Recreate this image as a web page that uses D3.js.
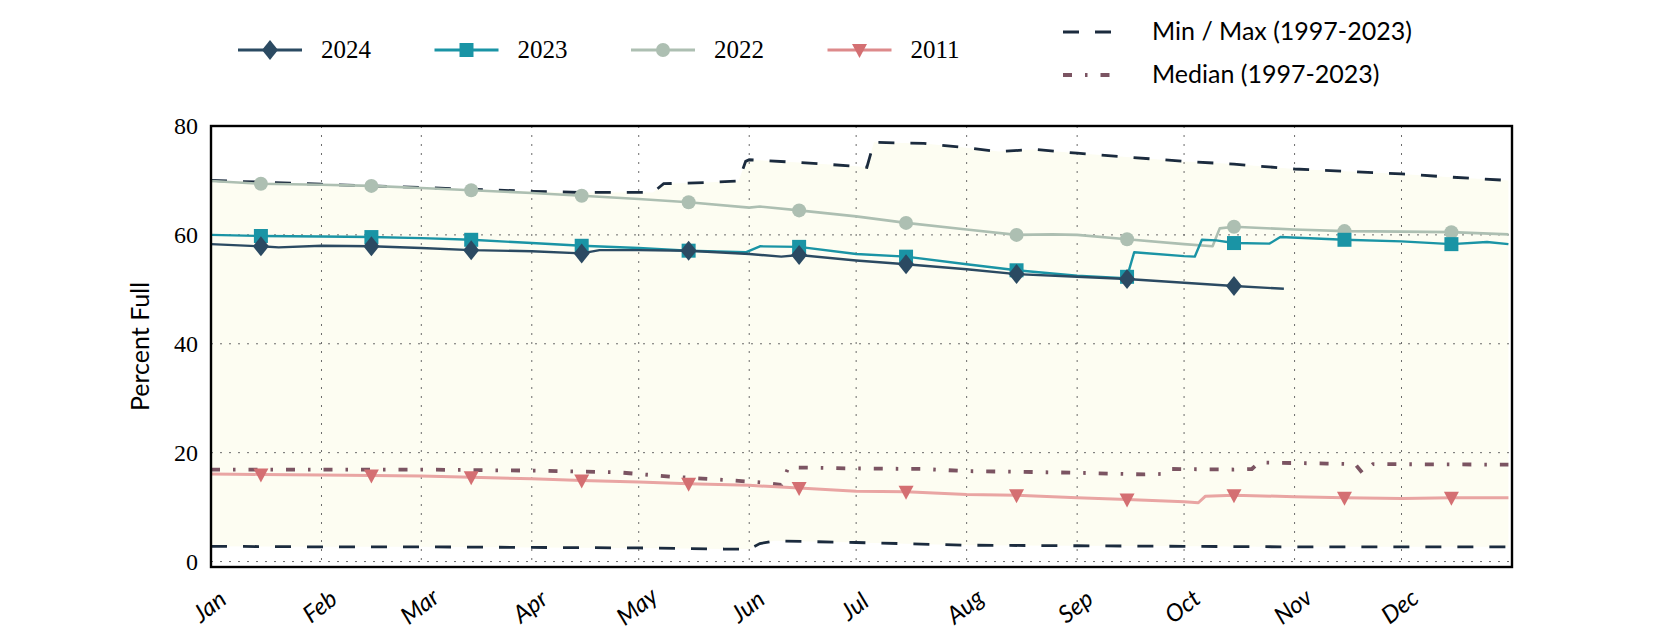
<!DOCTYPE html>
<html>
<head>
<meta charset="utf-8">
<script src="https://cdn.jsdelivr.net/npm/d3@7"></script>
<style>
body { margin: 0; background: #ffffff; }
</style>
</head>
<body>
<div id="chart"></div>
<script>
// tick labels
var months = ["Jan", "Feb", "Mar", "Apr", "May", "Jun", "Jul", "Aug", "Sep", "Oct", "Nov", "Dec"];
var yTicks = [0, 20, 40, 60, 80];
var markerDays = ["01-15", "02-15", "03-15", "04-15", "05-15", "06-15", "07-15", "08-15", "09-15", "10-15", "11-15", "12-15"];

// percent full, [month-day, value]
var series2024 = [["01-01",58.3],["01-15",57.9],["01-20",57.7],["02-01",58.0],["02-15",57.9],["03-01",57.6],["03-15",57.2],
  ["04-01",57.0],["04-15",56.6],["04-20",57.2],["05-01",57.2],["05-15",57.1],["06-01",56.5],["06-10",56.0],["06-15",56.3],
  ["07-01",55.3],["07-15",54.6],["08-01",53.7],["08-15",52.8],["09-01",52.3],["09-15",51.9],["10-01",51.2],["10-15",50.6],["10-29",50.1]];

var series2023 = [["01-01",60.0],["01-15",59.8],["02-01",59.7],["02-15",59.6],["03-01",59.4],["03-15",59.1],["04-01",58.5],
  ["04-15",58.0],["05-01",57.6],["05-15",57.1],["05-31",56.8],["06-04",57.9],["06-15",57.8],["07-01",56.5],["07-15",56.0],
  ["08-01",54.6],["08-15",53.5],["09-01",52.5],["09-13",52.1],["09-15",52.3],["09-17",56.8],["10-01",56.1],["10-04",56.0],
  ["10-06",59.1],["10-10",59.0],["10-15",58.5],["10-25",58.4],["10-28",59.6],["11-15",59.1],["12-01",58.8],["12-15",58.3],
  ["12-25",58.7],["12-31",58.3]];

var series2022 = [["01-01",69.9],["01-15",69.4],["02-01",69.2],["02-15",69.0],["03-01",68.6],["03-15",68.2],["04-01",67.7],
  ["04-15",67.2],["05-01",66.6],["05-15",66.0],["06-01",65.0],["06-04",65.2],["06-15",64.5],["07-01",63.4],["07-15",62.2],
  ["08-01",61.0],["08-15",60.0],["08-25",60.1],["09-01",60.0],["09-15",59.2],["10-01",58.3],["10-09",57.9],["10-11",61.2],
  ["10-15",61.5],["11-01",61.0],["11-15",60.7],["12-01",60.6],["12-15",60.5],["12-31",60.1]];

var series2011 = [["01-01",16.1],["01-15",16.0],["02-01",15.9],["02-15",15.8],["03-01",15.7],["03-15",15.5],["04-01",15.2],
  ["04-15",14.9],["05-01",14.6],["05-15",14.3],["06-01",14.0],["06-15",13.5],["07-01",12.9],["07-15",12.8],["08-01",12.3],
  ["08-15",12.2],["09-01",11.7],["09-15",11.4],["10-01",11.0],["10-05",10.8],["10-07",12.0],["10-15",12.2],["11-01",11.9],
  ["11-15",11.7],["12-01",11.6],["12-15",11.7],["12-31",11.7]];

// 1997-2023 statistics
var maxValues = [["01-01",70.0],["02-01",69.3],["03-01",68.7],["04-01",68.0],["04-15",67.8],["05-05",67.8],["05-08",69.4],
  ["05-20",69.6],["05-29",69.9],["05-31",73.5],["06-01",73.8],["06-15",73.3],["07-01",72.6],["07-04",72.4],["07-06",77.0],
  ["07-20",76.8],["08-01",76.0],["08-10",75.3],["08-20",75.7],["09-01",75.0],["09-15",74.3],["10-01",73.5],["10-15",73.0],
  ["11-01",72.1],["11-15",71.7],["12-01",71.2],["12-15",70.6],["12-31",70.0]];

var minValues = [["01-01",2.8],["02-01",2.7],["03-01",2.7],["04-01",2.6],["05-01",2.5],["05-25",2.3],["06-01",2.3],
  ["06-04",3.3],["06-08",3.8],["07-01",3.5],["08-01",3.0],["09-01",2.9],["10-01",2.8],["11-01",2.7],["12-01",2.7],["12-31",2.7]];

var medianValues = [["01-01",16.9],["02-01",16.9],["03-01",16.9],["04-01",16.7],["04-25",16.4],["05-10",15.6],["05-25",15.0],
  ["06-05",14.5],["06-10",14.1],["06-12",17.3],["07-01",17.1],["07-20",17.0],["08-01",16.6],["08-15",16.5],["09-01",16.3],
  ["09-20",16.0],["09-25",16.1],["09-27",17.0],["10-15",16.9],["10-20",17.0],["10-22",18.2],["11-10",18.0],["11-18",17.9],
  ["11-20",16.3],["11-23",17.9],["12-31",17.8]];

var svgWidth = 1680;
var svgHeight = 630;

var margin = {
  top: 126,
  right: 168,
  bottom: 63,
  left: 211
};

var width = svgWidth - margin.left - margin.right;
var height = svgHeight - margin.top - margin.bottom;

var parseDay = d3.timeParse("%Y-%m-%d");
function day(md) { return parseDay("2023-" + md); }

var svg = d3.select("#chart")
  .append("svg")
  .attr("width", svgWidth)
  .attr("height", svgHeight);

var chartGroup = svg.append("g")
  .attr("transform", `translate(${margin.left}, ${margin.top})`);

var xTimeScale = d3.scaleTime()
  .domain([day("01-01"), new Date(2024, 0, 1)])
  .range([0, width]);

var yLinearScale = d3.scaleLinear()
  .domain([-1, 80])
  .range([height, 0]);

var line = d3.line()
  .x(d => xTimeScale(day(d[0])))
  .y(d => yLinearScale(d[1]));

// band between min and max
chartGroup.append("path")
  .attr("d", line(maxValues.concat(minValues.slice().reverse())) + "Z")
  .attr("fill", "#fdfdf2");

// dotted grid
chartGroup.append("g")
  .selectAll("line")
  .data(yTicks)
  .enter()
  .append("line")
  .attr("x1", 0)
  .attr("x2", width)
  .attr("y1", d => yLinearScale(d))
  .attr("y2", d => yLinearScale(d))
  .attr("stroke", "#6b6b6b")
  .attr("stroke-width", 1)
  .attr("stroke-dasharray", "2,7");

var monthDates = months.map((m, i) => new Date(2023, i, 1));

chartGroup.append("g")
  .selectAll("line")
  .data(monthDates.slice(1))
  .enter()
  .append("line")
  .attr("x1", d => xTimeScale(d))
  .attr("x2", d => xTimeScale(d))
  .attr("y1", 0)
  .attr("y2", height)
  .attr("stroke", "#6b6b6b")
  .attr("stroke-width", 1)
  .attr("stroke-dasharray", "2,7");

// min / max / median
chartGroup.append("path")
  .attr("d", line(maxValues))
  .attr("fill", "none")
  .attr("stroke", "#1b2b3e")
  .attr("stroke-width", 2.8)
  .attr("stroke-dasharray", "16,16");

chartGroup.append("path")
  .attr("d", line(minValues))
  .attr("fill", "none")
  .attr("stroke", "#1b2b3e")
  .attr("stroke-width", 2.8)
  .attr("stroke-dasharray", "16,16");

chartGroup.append("path")
  .attr("d", line(medianValues))
  .attr("fill", "none")
  .attr("stroke", "#7b5462")
  .attr("stroke-width", 3.8)
  .attr("stroke-dasharray", "9,13,2.5,13");

// marker shapes
var shapes = {
  diamond: "M0,-10L8,0L0,10L-8,0Z",
  square: "M-7,-7h14v14h-14Z",
  circle: "M7,0A7,7 0 1,1 -7,0A7,7 0 1,1 7,0Z",
  triangle: "M-7.5,-6L7.5,-6L0,8Z"
};

var years = [
  {name: "2024", data: series2024, line: "#2b4a62", marker: "#2b4a62", shape: "diamond", width: 2.4},
  {name: "2023", data: series2023, line: "#1a94a5", marker: "#1a94a5", shape: "square", width: 2.4},
  {name: "2022", data: series2022, line: "#adbfb2", marker: "#adbfb2", shape: "circle", width: 2.6},
  {name: "2011", data: series2011, line: "#e9a5a3", marker: "#d46f72", shape: "triangle", width: 3}
];

// draw oldest first so 2024 sits on top
years.slice().reverse().forEach(function(s) {
  chartGroup.append("path")
    .attr("d", line(s.data))
    .attr("fill", "none")
    .attr("stroke", s.line)
    .attr("stroke-width", s.width)
    .attr("stroke-linejoin", "round");

  chartGroup.append("g")
    .selectAll("path")
    .data(s.data.filter(d => markerDays.indexOf(d[0]) >= 0))
    .enter()
    .append("path")
    .attr("d", shapes[s.shape])
    .attr("fill", s.marker)
    .attr("transform", d => `translate(${xTimeScale(day(d[0]))}, ${yLinearScale(d[1])})`);
});

// axes
var leftAxis = d3.axisLeft(yLinearScale)
  .tickValues(yTicks)
  .tickSize(0)
  .tickPadding(13);

var yAxisGroup = chartGroup.append("g").call(leftAxis);
yAxisGroup.select(".domain").remove();
yAxisGroup.selectAll("text")
  .attr("font-family", "'Liberation Serif', serif")
  .attr("font-size", 24)
  .attr("fill", "#000");

var bottomAxis = d3.axisBottom(xTimeScale)
  .tickValues(monthDates)
  .tickFormat((d, i) => months[i])
  .tickSize(0);

var xAxisGroup = chartGroup.append("g")
  .attr("transform", `translate(0, ${height})`)
  .call(bottomAxis);
xAxisGroup.select(".domain").remove();
xAxisGroup.selectAll("text")
  .attr("font-family", "Lato, sans-serif")
  .attr("font-style", "italic")
  .attr("font-size", 24)
  .attr("fill", "#000")
  .attr("text-anchor", "middle")
  .attr("dy", 0)
  .attr("y", 0)
  .attr("transform", "translate(3, 46) rotate(-38)");

// y axis label
chartGroup.append("text")
  .attr("transform", `translate(-62, ${height / 2}) rotate(-90)`)
  .attr("text-anchor", "middle")
  .attr("font-family", "Lato, sans-serif")
  .attr("font-size", 25)
  .text("Percent Full");

// plot frame
chartGroup.append("rect")
  .attr("width", width)
  .attr("height", height)
  .attr("fill", "none")
  .attr("stroke", "#000")
  .attr("stroke-width", 2.4);

// legend
var legendGroup = svg.append("g");

years.forEach(function(s, i) {
  var g = legendGroup.append("g")
    .attr("transform", `translate(${270 + i * 196.5}, 50)`);
  g.append("line")
    .attr("x1", -32)
    .attr("x2", 32)
    .attr("stroke", s.name == "2011" ? "#dd8a8b" : s.line)
    .attr("stroke-width", 3);
  g.append("path")
    .attr("d", shapes[s.shape])
    .attr("fill", s.marker);
  g.append("text")
    .attr("x", 51)
    .attr("dy", "0.33em")
    .attr("font-family", "'Liberation Serif', serif")
    .attr("font-size", 25)
    .text(s.name);
});

var statLegend = [
  {name: "Min / Max (1997-2023)", color: "#1b2b3e", dash: "16,16", width: 2.8, y: 32},
  {name: "Median (1997-2023)", color: "#7b5462", dash: "9,13,2.5,13", width: 3.8, y: 75}
];

statLegend.forEach(function(s) {
  legendGroup.append("line")
    .attr("x1", 1063)
    .attr("x2", 1111)
    .attr("y1", s.y)
    .attr("y2", s.y)
    .attr("stroke", s.color)
    .attr("stroke-width", s.width)
    .attr("stroke-dasharray", s.dash);
  legendGroup.append("text")
    .attr("x", 1152)
    .attr("y", s.y)
    .attr("dy", "0.33em")
    .attr("font-family", "Lato, sans-serif")
    .attr("font-size", 25)
    .text(s.name);
});
</script>
</body>
</html>
